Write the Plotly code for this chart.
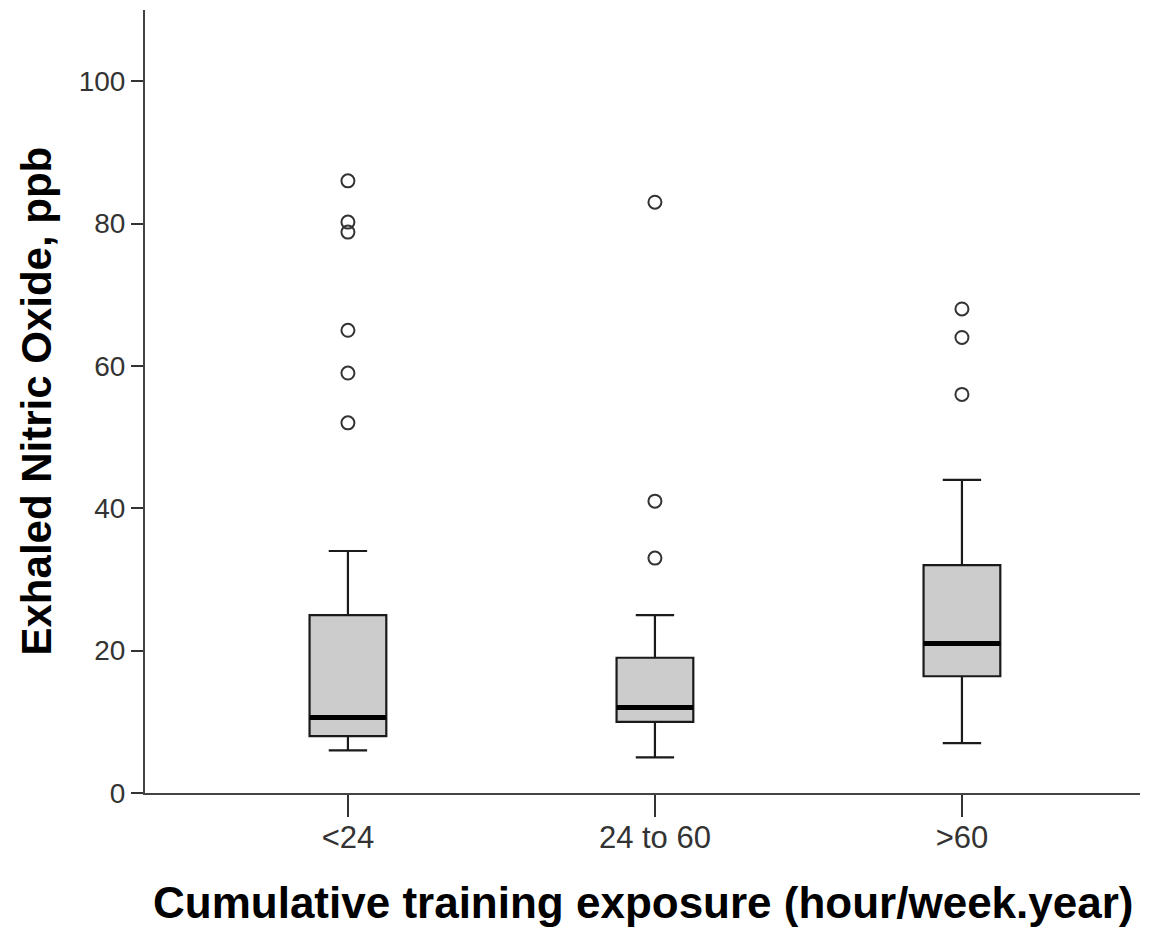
import plotly.graph_objects as go

categories = ["<24", "24 to 60", ">60"]
lower_whisker = [6, 5, 7]
q1 = [8, 10, 16.4]
median = [10.6, 12, 21]
q3 = [25, 19, 32]
upper_whisker = [34, 25, 44]
outliers = [
    [52, 59, 65, 78.8, 80.2, 86],
    [33, 41, 83],
    [56, 64, 68],
]

BOX_W = 0.25
fig = go.Figure()

for i, cat in enumerate(categories):
    fig.add_trace(go.Box(
        x=[i], q1=[q1[i]], median=[median[i]], q3=[q3[i]],
        lowerfence=[lower_whisker[i]], upperfence=[upper_whisker[i]],
        width=BOX_W, whiskerwidth=0.5,
        fillcolor="#cccccc", line=dict(color="#1a1a1a", width=2.2),
        boxpoints=False, showlegend=False, hoverinfo="skip",
    ))
    fig.add_trace(go.Scatter(
        x=[i - BOX_W / 2, i + BOX_W / 2], y=[median[i], median[i]],
        mode="lines", line=dict(color="black", width=5),
        showlegend=False, hoverinfo="skip",
    ))
    fig.add_trace(go.Scatter(
        x=[i] * len(outliers[i]), y=outliers[i], mode="markers",
        marker=dict(symbol="circle-open", size=13, color="#333333",
                    line=dict(width=2, color="#333333")),
        showlegend=False, hoverinfo="skip",
    ))

fig.update_layout(
    width=1154, height=931,
    margin=dict(l=145, r=14, t=10, b=138),
    paper_bgcolor="white", plot_bgcolor="white",
    showlegend=False,
    xaxis=dict(
        range=[-0.661, 2.58], tickvals=[0, 1, 2], ticktext=categories,
        showgrid=False, zeroline=False, showline=True, linecolor="#444444", linewidth=2,
        ticks="outside", ticklen=22, tickwidth=1.5, tickcolor="#333333",
        ticklabelstandoff=-6,
        tickfont=dict(family="Liberation Sans, Arial", size=31, color="#333333"),
    ),
    yaxis=dict(
        range=[0, 110], tickvals=[0, 20, 40, 60, 80, 100],
        showgrid=False, zeroline=False, showline=True, linecolor="#444444", linewidth=2,
        ticks="outside", ticklen=12, tickwidth=2, tickcolor="#333333",
        tickfont=dict(family="Liberation Sans, Arial", size=28, color="#333333"),
    ),
    annotations=[
        dict(text="Exhaled Nitric Oxide, ppb", textangle=-90,
             xref="paper", yref="paper", x=(36 - 145) / 995, y=0.5,
             xanchor="center", yanchor="middle", showarrow=False,
             font=dict(family="Liberation Sans, Arial", size=42, color="black", weight="bold")),
        dict(text="Cumulative training exposure (hour/week.year)",
             xref="paper", yref="paper", x=0.5, y=(793 - 903) / 783,
             xanchor="center", yanchor="middle", showarrow=False,
             font=dict(family="Liberation Sans, Arial", size=44, color="black", weight="bold")),
    ],
)

fig.write_html("out.html", config={"displayModeBar": False},
               post_script="document.body.style.margin='0';")
